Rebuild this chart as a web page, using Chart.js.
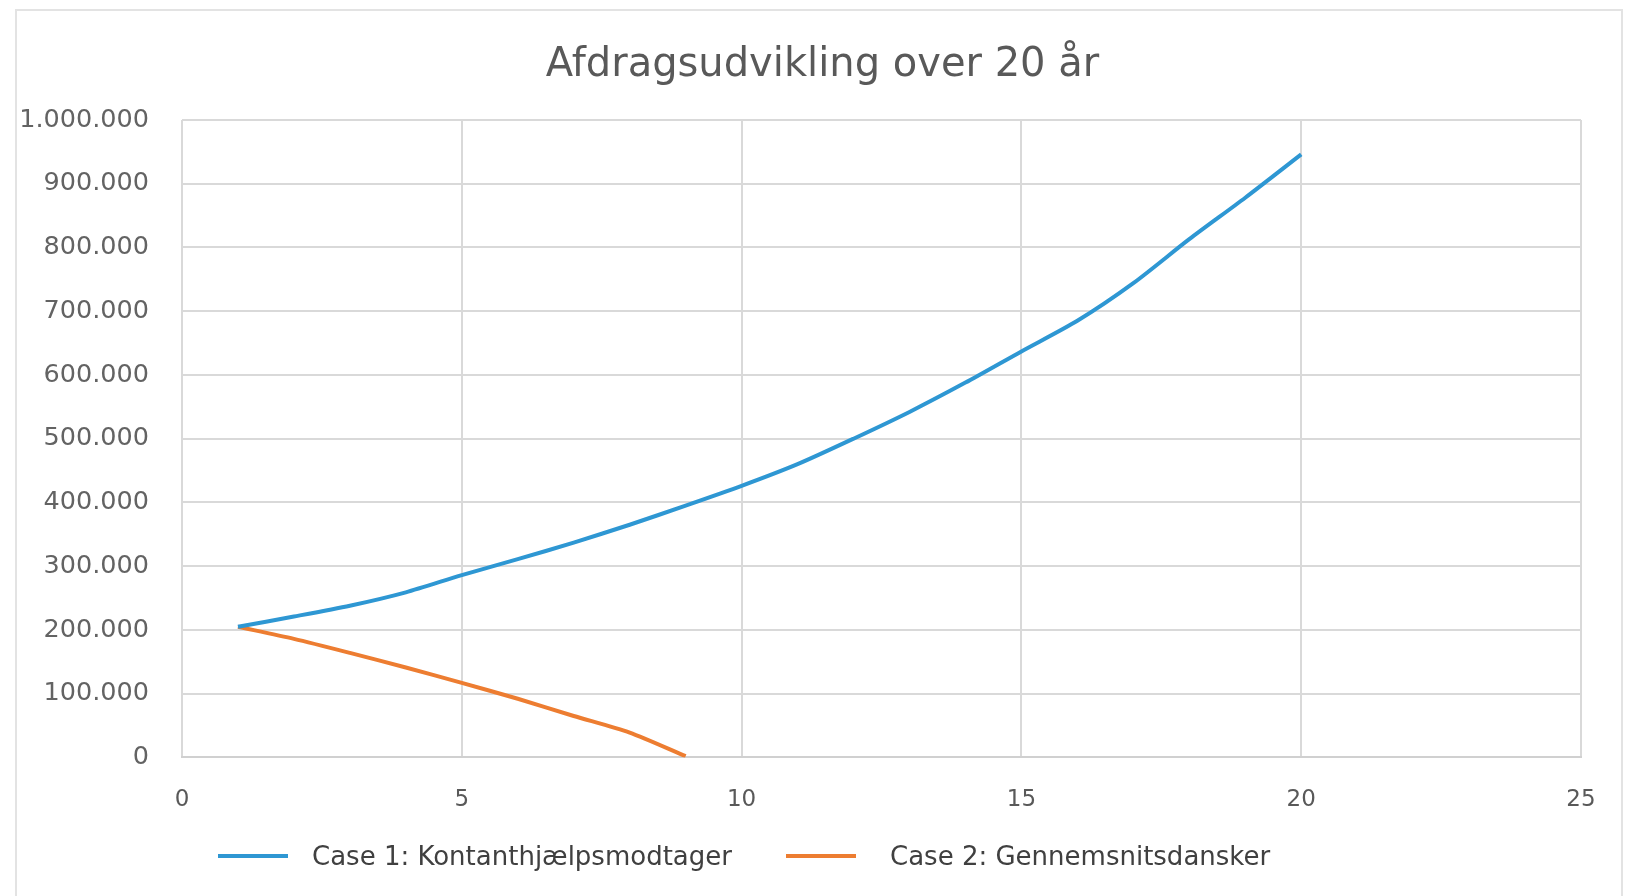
<!DOCTYPE html>
<html>
<head>
<meta charset="utf-8">
<script src="https://cdn.jsdelivr.net/npm/chart.js@4/dist/chart.umd.min.js"></script>
<style>
  html, body { margin: 0; padding: 0; background: #fff; }
  #frame { position: absolute; left: 15px; top: 9px; width: 1608px; height: 900px; border: 2px solid #e3e3e3; box-sizing: border-box; }
  #chart { position: absolute; left: 0; top: 0; }
  #legend { position: absolute; left: 0; top: 856px; font-family: 'DejaVu Sans'; font-size: 26px; color: #404040; }
  .item { position: absolute; top: 0; white-space: nowrap; }
  .swatch { position: absolute; top: -2px; width: 70px; height: 4px; }
  .label { position: absolute; top: 0; transform: translateY(-50%); line-height: 30px; }
</style>
</head>
<body>
<div id="frame"></div>
<canvas id="chart" width="1629" height="896"></canvas>
<div id="legend"></div>
<script>
// year 1..20
const years = [1, 2, 3, 4, 5, 6, 7, 8, 9, 10, 11, 12, 13, 14, 15, 16, 17, 18, 19, 20];
const case1 = [205000, 221000, 238000, 259000, 286000, 311000, 337000, 365000, 395000, 426000,
               460000, 500000, 542000, 588000, 637000, 685000, 744000, 813000, 878000, 946000];
const case2Years = [1, 2, 3, 4, 5, 6, 7, 8, 9];
const case2 = [205000, 186000, 164000, 141000, 117000, 92000, 65000, 39000, 2000];
const seriesNames = ['Case 1: Kontanthjælpsmodtager', 'Case 2: Gennemsnitsdansker'];
const seriesColors = ['#2e97d3', '#ed7d31'];
const chartTitle = 'Afdragsudvikling over 20 år';

const toPoints = (xs, ys) => xs.map((x, i) => ({ x: x, y: ys[i] }));
const dkNumber = v => v.toString().replace(/\B(?=(\d{3})+(?!\d))/g, '.');

const chart = new Chart('chart', {
  type: 'line',
  data: {
    datasets: [{
      label: seriesNames[0],
      data: toPoints(years, case1),
      borderColor: seriesColors[0],
      borderWidth: 4,
      pointRadius: 0,
      tension: 0.25,
      fill: false
    }, {
      label: seriesNames[1],
      data: toPoints(case2Years, case2),
      borderColor: seriesColors[1],
      borderWidth: 4,
      pointRadius: 0,
      tension: 0.25,
      fill: false
    }]
  },
  options: {
    responsive: false,
    animation: false,
    layout: { padding: { left: 16, right: 0, top: 0, bottom: 53 } },
    plugins: {
      title: {
        display: true,
        text: chartTitle,
        color: '#595959',
        font: { family: 'DejaVu Sans', size: 40, weight: 'normal' },
        padding: { top: 42, bottom: 30 }
      },
      legend: { display: false },
      tooltip: { enabled: false }
    },
    scales: {
      x: {
        type: 'linear',
        min: 0,
        max: 25,
        afterFit: s => { s.paddingRight = 48; },
        ticks: {
          stepSize: 5,
          padding: 29,
          color: '#595959',
          font: { family: 'DejaVu Sans', size: 23 }
        },
        grid: { color: '#d9d9d9', lineWidth: 2, drawTicks: false },
        border: { color: '#d0d0d0', width: 2 }
      },
      y: {
        min: 0,
        max: 1000000,
        afterFit: s => { s.width = 166; },
        ticks: {
          stepSize: 100000,
          padding: 33,
          color: '#636363',
          font: { family: 'DejaVu Sans', size: 25.5 },
          callback: v => dkNumber(v)
        },
        grid: { color: '#d9d9d9', lineWidth: 2, drawTicks: false },
        border: { display: false }
      }
    }
  }
});

// legend below the axis, built from the dataset names and colours
const legendPos = [218, 786];
const labelGap = [94, 104];
const legend = document.getElementById('legend');
chart.data.datasets.forEach((ds, i) => {
  const item = document.createElement('div');
  item.className = 'item';
  item.style.left = legendPos[i] + 'px';
  const sw = document.createElement('div');
  sw.className = 'swatch';
  sw.style.background = ds.borderColor;
  const lb = document.createElement('div');
  lb.className = 'label';
  lb.style.left = labelGap[i] + 'px';
  lb.textContent = ds.label;
  item.appendChild(sw);
  item.appendChild(lb);
  legend.appendChild(item);
});
</script>
</body>
</html>
